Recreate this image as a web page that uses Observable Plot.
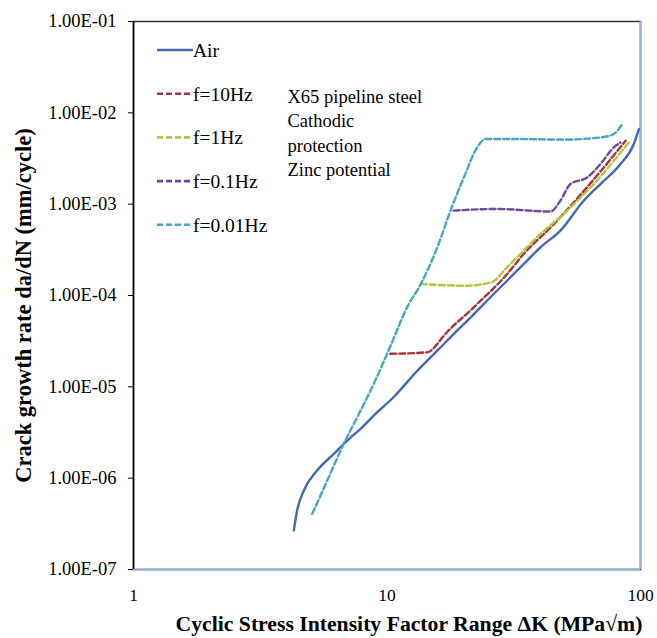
<!DOCTYPE html>
<html>
<head>
<meta charset="utf-8">
<script src="https://cdn.jsdelivr.net/npm/d3@7"></script>
<script src="https://cdn.jsdelivr.net/npm/@observablehq/plot@0.6"></script>
<style>
  html, body { margin: 0; padding: 0; background: #fff; }
  #chart { width: 657px; height: 638px; }
  #chart svg, #chart svg text { font-family: "Liberation Serif", "Times New Roman", serif; }
</style>
</head>
<body>
<div id="chart"></div>
<script>
// ---- data ----
const airK    = [4.29, 4.42, 4.70, 5.30, 6.17, 6.97, 7.86, 9.15, 10.6, 13.2, 15.8, 18.9, 21.4, 24.1, 29.8, 35.7, 40.3, 48.3, 59.7, 69.5, 83.4, 94.1, 98.5];
const airRate = [2.68e-7, 4.43e-7, 7.33e-7, 1.21e-6, 1.85e-6, 2.58e-6, 3.47e-6, 5.27e-6, 7.69e-6, 1.51e-5, 2.49e-5, 4.13e-5, 5.77e-5, 8.09e-5, 1.46e-4, 2.41e-4, 3.37e-4, 5.13e-4, 1.09e-3, 1.66e-3, 2.75e-3, 4.56e-3, 6.65e-3];

const f10K    = [10.3, 14.4, 15.8, 16.3, 22.0, 29.8, 34.6, 44.2, 54.6, 69.5, 87.3];
const f10Rate = [2.30e-5, 2.39e-5, 2.95e-5, 3.30e-5, 7.43e-5, 1.72e-4, 2.85e-4, 5.57e-4, 1.05e-3, 2.28e-3, 4.95e-3];

const f1K     = [13.6, 20.1, 25.6, 29.8, 34.6, 40.3, 49.8, 56.3, 65.4, 78.5, 89.9];
const f1Rate  = [1.34e-4, 1.28e-4, 1.38e-4, 2.04e-4, 3.10e-4, 4.72e-4, 7.81e-4, 1.09e-3, 1.66e-3, 2.99e-3, 4.74e-3];

const f01K    = [18.3, 27.2, 44.2, 48.3, 52.9, 61.6, 69.5, 78.5, 83.4];
const f01Rate = [8.49e-4, 8.86e-4, 8.30e-4, 1.09e-3, 1.66e-3, 1.96e-3, 2.75e-3, 4.19e-3, 4.74e-3];

const f001K    = [5.07, 5.81, 6.75, 7.63, 8.87, 10.3, 12.0, 13.6, 15.8, 17.8, 20.1, 22.7, 24.5, 31.6, 49.8, 69.5, 78.5, 84.7];
const f001Rate = [4.07e-7, 9.4e-7, 2.38e-6, 4.65e-6, 1.08e-5, 2.76e-5, 7.43e-5, 1.34e-4, 3.37e-4, 8.49e-4, 1.96e-3, 4.19e-3, 5.17e-3, 5.17e-3, 5.10e-3, 5.37e-3, 5.87e-3, 7.55e-3];

const seriesNames = ["Air", "f=10Hz", "f=1Hz", "f=0.1Hz", "f=0.01Hz"];
const xTicks = [1, 10, 100];
const yTicks = [1e-1, 1e-2, 1e-3, 1e-4, 1e-5, 1e-6, 1e-7];
const xTitle = "Cyclic Stress Intensity Factor Range \u0394K (MPa\u221Am)";
const yTitle = "Crack growth rate da/dN (mm/cycle)";
const noteLines = ["X65 pipeline steel", "Cathodic", "protection", "Zinc potential"];

// ---- styling ----
const FONT = "Liberation Serif";
const colors = ["#4469B2", "#A8333A", "#AFC83E", "#6A4C9C", "#4AA5C4"];
const dashes = [null, "6,3", "6,3", "6,3", "6,3"];

const toRows = (ks, rs) => ks.map((k, i) => ({k, r: rs[i]}));
const series = [
  toRows(airK, airRate),
  toRows(f10K, f10Rate),
  toRows(f1K, f1Rate),
  toRows(f01K, f01Rate),
  toRows(f001K, f001Rate)
];

const fmtY = d => "1.00E-" + String(Math.round(-Math.log10(d))).padStart(2, "0");

const lineMarks = series.map((rows, i) => Plot.line(rows, {
  x: "k", y: "r", stroke: colors[i], strokeWidth: 2.4, curve: "monotone-x",
  strokeDasharray: dashes[i] || undefined
}));

const plot = Plot.plot({
  width: 657,
  height: 638,
  marginLeft: 133,
  marginRight: 17,
  marginTop: 21,
  marginBottom: 69,
  style: {fontFamily: FONT, color: "#000", background: "#fff"},
  x: {type: "log", domain: [1, 100]},
  y: {type: "log", domain: [1e-7, 1e-1]},
  marks: [
    Plot.frame({stroke: "#333", strokeWidth: 1.5}),
    Plot.ruleY([1e-7], {stroke: "#8DB4E2", strokeWidth: 1.8}),
    Plot.ruleX([100], {stroke: "#8DB4E2", strokeWidth: 1.8}),
    Plot.ruleX([1], {stroke: "#000", strokeWidth: 1.5}),
    Plot.axisY({ticks: yTicks, tickFormat: fmtY, tickSize: 5, tickPadding: 12, label: null, fontSize: 18.5, fontFamily: FONT, tickStrokeWidth: 1.3}),
    Plot.axisX({ticks: xTicks, tickFormat: d => String(d), tickSize: 0, tickPadding: 19, label: null, fontSize: 17.5, fontFamily: FONT}),
    ...lineMarks,
    Plot.text([xTitle], {frameAnchor: "bottom", dx: 22, dy: 61, fontSize: 21.7, fontWeight: "bold", fontFamily: FONT, text: d => d}),
    Plot.text([yTitle], {frameAnchor: "left", dx: -110, dy: 10, rotate: -90, textAnchor: "middle", lineAnchor: "middle", fontSize: 22.5, fontWeight: "bold", fontFamily: FONT, text: d => d}),
    Plot.text([noteLines.join("\n")], {frameAnchor: "top-left", dx: 154, dy: 64, fontSize: 18.5, fontFamily: FONT, lineHeight: 1.32, textAnchor: "start", lineAnchor: "top", text: d => d})
  ]
});

// legend keys
const svg = d3.select(plot);
const lg = svg.append("g").attr("transform", "translate(157,50)");
seriesNames.forEach((name, i) => {
  const y = i * 43.7;
  lg.append("line").attr("x1", 0).attr("x2", 36).attr("y1", y).attr("y2", y)
    .attr("stroke", colors[i]).attr("stroke-width", 2.6)
    .attr("stroke-dasharray", dashes[i] || null);
  lg.append("text").attr("x", 36).attr("y", y).attr("dy", "0.35em")
    .attr("text-anchor", "start")
    .attr("font-family", FONT)
    .attr("font-size", 19.5).attr("fill", "#000").text(name);
});

document.getElementById("chart").appendChild(plot);
</script>
</body>
</html>
